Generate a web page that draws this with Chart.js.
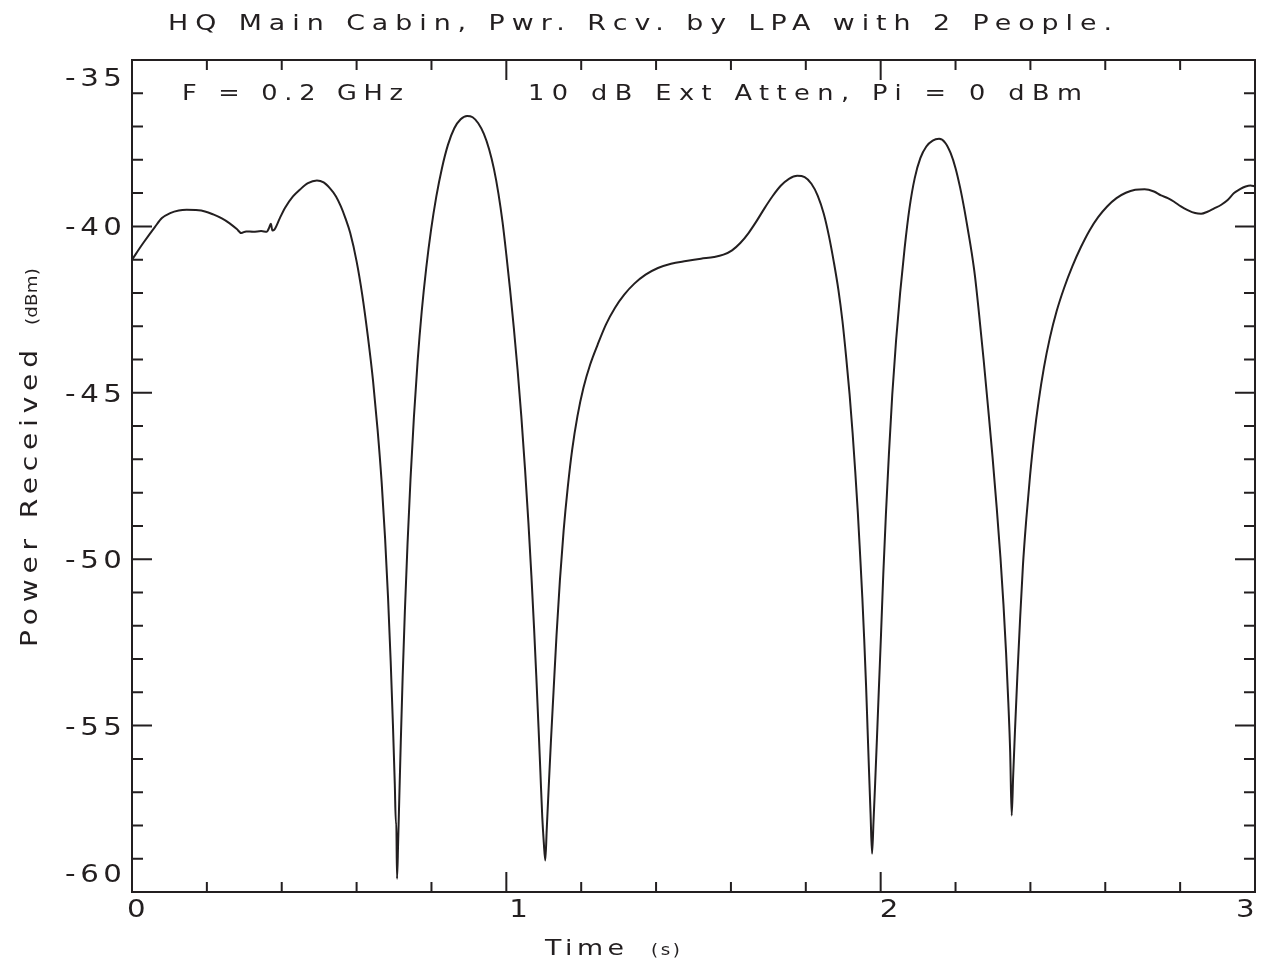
<!DOCTYPE html>
<html>
<head>
<meta charset="utf-8">
<script src="https://cdn.jsdelivr.net/npm/chart.js@4.4.1/dist/chart.umd.min.js"></script>
<style>
  html, body { margin: 0; padding: 0; background: #fff; }
</style>
</head>
<body>
<canvas id="grafico" width="1269" height="961"></canvas>
<script>
// tiempo (s) y potencia recibida (dBm)
const tiempo = [
  0.000,0.030,0.061,0.080,0.102,0.125,0.146,0.170,0.195,0.217,
  0.240,0.260,0.280,0.292,0.305,0.324,0.345,0.360,0.366,0.371,
  0.375,0.380,0.395,0.409,0.430,0.449,0.470,0.494,0.512,0.529,
  0.545,0.558,0.570,0.583,0.600,0.615,0.630,0.644,0.656,0.667,
  0.676,0.684,0.691,0.697,0.702,0.705,0.706,0.708,0.711,0.714,
  0.718,0.723,0.729,0.736,0.744,0.753,0.763,0.774,0.786,0.799,
  0.813,0.828,0.844,0.861,0.878,0.895,0.910,0.925,0.940,0.954,
  0.967,0.979,0.990,1.000,1.010,1.020,1.030,1.040,1.050,1.059,
  1.067,1.074,1.080,1.086,1.091,1.096,1.100,1.104,1.108,1.113,
  1.119,1.126,1.134,1.143,1.153,1.164,1.176,1.190,1.206,1.224,
  1.244,1.266,1.290,1.315,1.342,1.372,1.405,1.440,1.480,1.520,
  1.555,1.580,1.603,1.625,1.647,1.668,1.690,1.712,1.733,1.755,
  1.777,1.797,1.815,1.832,1.848,1.862,1.875,1.887,1.898,1.908,
  1.917,1.925,1.932,1.939,1.945,1.951,1.956,1.961,1.965,1.969,
  1.973,1.977,1.981,1.985,1.990,1.995,2.001,2.007,2.014,2.022,
  2.031,2.041,2.052,2.064,2.077,2.091,2.106,2.122,2.139,2.156,
  2.172,2.187,2.200,2.212,2.223,2.233,2.243,2.252,2.263,2.275,
  2.287,2.299,2.310,2.320,2.328,2.335,2.341,2.346,2.350,2.354,
  2.359,2.365,2.372,2.380,2.389,2.399,2.410,2.422,2.436,2.452,
  2.470,2.490,2.512,2.535,2.558,2.581,2.605,2.630,2.655,2.680,
  2.705,2.730,2.749,2.767,2.784,2.802,2.820,2.840,2.856,2.873,
  2.891,2.910,2.927,2.944,2.960,2.975,2.988,3.000
];

const potencia = [
  -41.00,-40.50,-40.02,-39.75,-39.60,-39.52,-39.50,-39.51,-39.55,-39.64,
  -39.76,-39.90,-40.08,-40.20,-40.15,-40.16,-40.14,-40.16,-40.05,-39.92,
  -40.12,-40.10,-39.75,-39.44,-39.10,-38.89,-38.70,-38.62,-38.68,-38.86,
  -39.10,-39.40,-39.75,-40.20,-41.05,-42.05,-43.30,-44.65,-46.10,-47.70,
  -49.35,-51.15,-53.05,-54.95,-56.75,-57.95,-57.90,-59.60,-58.50,-57.20,
  -55.50,-53.55,-51.55,-49.55,-47.60,-45.75,-44.05,-42.55,-41.25,-40.10,
  -39.10,-38.25,-37.55,-37.05,-36.78,-36.68,-36.72,-36.90,-37.22,-37.68,
  -38.28,-39.02,-39.88,-40.85,-41.90,-43.05,-44.30,-45.70,-47.30,-48.90,
  -50.50,-52.05,-53.50,-55.05,-56.40,-57.75,-58.50,-59.05,-58.10,-56.90,
  -55.50,-54.00,-52.30,-50.65,-49.15,-47.85,-46.70,-45.70,-44.85,-44.15,
  -43.55,-42.95,-42.45,-42.05,-41.72,-41.45,-41.25,-41.12,-41.04,-40.97,
  -40.92,-40.85,-40.72,-40.50,-40.20,-39.85,-39.45,-39.08,-38.78,-38.57,
  -38.48,-38.52,-38.72,-39.08,-39.62,-40.30,-41.08,-41.90,-42.85,-43.95,
  -45.05,-46.20,-47.35,-48.60,-49.85,-51.15,-52.40,-53.80,-55.10,-56.40,
  -57.65,-58.85,-57.85,-56.80,-55.40,-53.95,-52.25,-50.45,-48.65,-46.85,
  -45.05,-43.45,-42.00,-40.65,-39.45,-38.55,-37.95,-37.60,-37.42,-37.37,
  -37.48,-37.80,-38.25,-38.82,-39.45,-40.10,-40.78,-41.50,-42.65,-44.00,
  -45.45,-46.95,-48.45,-49.95,-51.35,-52.80,-54.30,-55.80,-57.70,-56.50,
  -55.10,-53.55,-51.90,-50.20,-48.80,-47.50,-46.30,-45.25,-44.25,-43.35,
  -42.55,-41.85,-41.20,-40.62,-40.12,-39.72,-39.40,-39.15,-38.99,-38.90,
  -38.88,-38.95,-39.07,-39.15,-39.26,-39.40,-39.51,-39.60,-39.62,-39.56,
  -39.46,-39.35,-39.21,-39.00,-38.88,-38.80,-38.77,-38.80
];

// etiquetas de los ejes
const etiquetasY = [-60, -55, -50, -45, -40, -35];
const etiquetasX = [0, 1, 2, 3];

const titulo = 'HQ Main Cabin, Pwr. Rcv. by LPA with 2 People.';
const notaFrec = 'F = 0.2 GHz';
const notaAtten = '10 dB Ext Atten, Pi = 0 dBm';

const tinta = '#231f20';
const fuente = '"DejaVu Sans", sans-serif';
const estirado = 1.22; // letra de plotter, mas ancha

if (tiempo.length !== potencia.length) console.warn('datos desiguales', tiempo.length, potencia.length);

// texto ensanchado y con letterSpacing hasta ocupar un ancho dado
function textoAjustado(ctx, txt, x, y, ancho, tam) {
  ctx.save();
  ctx.font = tam + 'px ' + fuente;
  ctx.letterSpacing = '0px';
  const w = ctx.measureText(txt).width;
  const esp = txt.length > 1 ? (ancho / estirado - w) / (txt.length - 1) : 0;
  ctx.letterSpacing = esp + 'px';
  ctx.textAlign = 'left';
  ctx.textBaseline = 'alphabetic';
  ctx.translate(x, y);
  ctx.scale(estirado, 1);
  ctx.fillText(txt, 0, 0);
  ctx.restore();
}

const marco = {
  id: 'marco',
  afterDraw(chart) {
    const { ctx, chartArea: a } = chart;
    const sx = chart.scales.x, sy = chart.scales.y;
    ctx.save();
    ctx.strokeStyle = tinta;
    ctx.fillStyle = tinta;
    ctx.lineWidth = 2;
    ctx.strokeRect(a.left, a.top, a.right - a.left, a.bottom - a.top);

    // marcas hacia dentro en los cuatro lados
    ctx.beginPath();
    for (let v = -60; v <= -35; v++) {
      const py = sy.getPixelForValue(v);
      const largo = v % 5 === 0 ? 20 : 11;
      ctx.moveTo(a.left, py); ctx.lineTo(a.left + largo, py);
      ctx.moveTo(a.right, py); ctx.lineTo(a.right - largo, py);
    }
    for (let i = 0; i <= 15; i++) {
      const px = sx.getPixelForValue(i * 0.2);
      const largo = i % 5 === 0 ? 20 : 10;
      ctx.moveTo(px, a.bottom); ctx.lineTo(px, a.bottom - largo);
      ctx.moveTo(px, a.top); ctx.lineTo(px, a.top + largo);
    }
    ctx.stroke();

    // etiquetas eje Y (las de los extremos van hacia dentro)
    etiquetasY.forEach((v, i) => {
      let py = sy.getPixelForValue(v);
      if (i === 0) py -= 19;
      if (i === etiquetasY.length - 1) py += 17;
      textoAjustado(ctx, String(v), 65, py + 9, 57, 24);
    });

    // etiquetas eje X
    const desp = [3, 11, 7, -11];
    etiquetasX.forEach((t, i) => {
      const px = sx.getPixelForValue(t) + desp[i];
      textoAjustado(ctx, String(t), px - 8, 917, 16, 24);
    });

    // titulo y notas
    textoAjustado(ctx, titulo, 168, 30, 944, 22);
    textoAjustado(ctx, notaFrec, 182, 100, 221, 21);
    textoAjustado(ctx, notaAtten, 528, 100, 554, 21);

    // titulos de ejes
    textoAjustado(ctx, 'Time', 545, 955, 79, 22);
    textoAjustado(ctx, '(s)', 651, 955, 29, 15);

    ctx.translate(37, 647);
    ctx.rotate(-Math.PI / 2);
    textoAjustado(ctx, 'Power Received', 0, 0, 297, 23);
    textoAjustado(ctx, '(dBm)', 322, 0, 57, 15);
    ctx.restore();
  }
};

const puntos = tiempo.map((t, i) => ({ x: t, y: potencia[i] }));

new Chart(document.getElementById('grafico'), {
  type: 'line',
  data: {
    datasets: [{
      label: 'Power Received',
      data: puntos,
      borderColor: tinta,
      borderWidth: 2,
      pointRadius: 0,
      fill: false,
      cubicInterpolationMode: 'monotone'
    }]
  },
  options: {
    responsive: false,
    animation: false,
    devicePixelRatio: 1,
    layout: { padding: { left: 132, right: 14, top: 60, bottom: 69 } },
    plugins: {
      legend: { display: false },
      tooltip: { enabled: false }
    },
    scales: {
      x: { type: 'linear', min: 0, max: 3, display: false },
      y: { type: 'linear', min: -60, max: -35, display: false }
    }
  },
  plugins: [marco]
});
</script>
</body>
</html>
